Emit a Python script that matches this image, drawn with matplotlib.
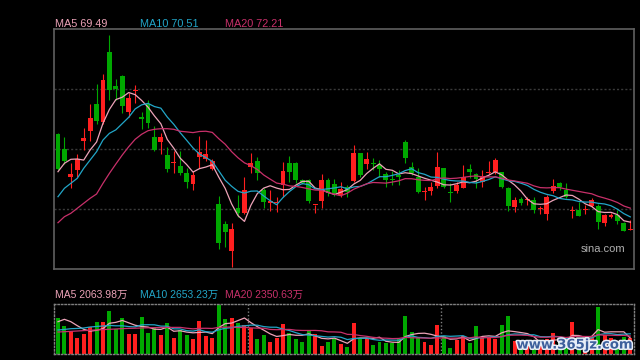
import numpy as np
import pandas as pd
import matplotlib
matplotlib.use('Agg')
import matplotlib.pyplot as plt
import matplotlib.patheffects as pe

# daily prices
opens = [87.00, 84.00, 78.46, 79.80, 85.66, 87.66, 93.00, 89.40, 103.40, 96.60,
         98.60, 91.46, 95.60, 90.46, 93.00, 86.46, 85.46, 82.80, 81.30, 80.60,
         79.14, 77.00, 82.34, 81.94, 80.00, 73.00, 69.00, 63.66, 72.14, 71.14,
         80.34, 81.60, 75.80, 73.14, 73.14, 76.80, 81.14, 81.14, 77.80, 77.80,
         72.74, 73.60, 77.80, 77.00, 74.80, 76.46, 77.66, 83.26, 81.00, 81.20,
         80.80, 79.00, 77.90, 78.80, 85.34, 80.46, 78.34, 75.40, 75.66, 76.66,
         80.14, 75.30, 75.66, 76.26, 80.00, 79.00, 77.46, 79.30, 79.34, 79.34,
         76.14, 72.46, 74.00, 73.74, 73.80, 72.08, 71.00, 75.66, 77.14, 75.80,
         71.60, 71.80, 71.88, 72.66, 72.60, 69.26, 70.34, 70.80, 69.26, 67.90]
highs = [87.26, 86.34, 81.14, 83.00, 88.14, 93.00, 96.94, 99.00, 106.80, 98.00,
         98.80, 95.20, 96.80, 91.46, 93.80, 88.60, 87.20, 84.40, 83.60, 83.60,
         80.14, 79.66, 86.60, 85.80, 82.00, 74.60, 69.66, 69.26, 74.80, 78.34,
         83.14, 82.34, 76.14, 75.80, 74.34, 81.34, 82.60, 81.46, 78.00, 77.94,
         72.80, 79.00, 78.20, 78.00, 77.40, 76.80, 84.74, 83.26, 83.46, 82.14,
         81.80, 79.46, 79.66, 79.80, 85.80, 81.46, 80.14, 76.46, 77.46, 83.34,
         80.20, 77.14, 77.46, 80.80, 81.00, 79.14, 79.80, 81.60, 82.26, 79.46,
         76.46, 74.46, 74.46, 74.46, 74.34, 72.60, 74.80, 77.94, 77.46, 77.26,
         72.60, 73.40, 72.80, 74.14, 73.00, 71.00, 71.26, 71.80, 69.40, 69.80]
lows = [79.80, 81.00, 76.14, 78.46, 83.80, 85.66, 89.00, 89.00, 93.80, 93.80,
        91.20, 90.40, 93.20, 87.94, 88.20, 83.60, 83.00, 79.40, 79.20, 78.80,
        76.14, 75.80, 80.14, 81.60, 79.80, 63.94, 64.34, 60.46, 70.46, 71.00,
        79.26, 77.80, 72.14, 71.66, 71.46, 74.34, 77.46, 77.26, 77.00, 73.26,
        71.14, 72.14, 74.60, 74.60, 74.34, 74.34, 77.46, 78.34, 79.94, 79.80,
        78.34, 76.46, 76.80, 76.80, 81.26, 78.80, 75.14, 73.80, 74.80, 76.14,
        76.26, 73.46, 75.14, 76.14, 78.14, 76.14, 76.46, 79.00, 78.94, 76.14,
        71.66, 71.46, 72.80, 72.80, 71.26, 71.00, 69.80, 75.14, 75.80, 74.14,
        70.14, 70.60, 71.00, 72.46, 67.94, 68.60, 70.14, 68.94, 67.60, 67.90]
closes = [80.06, 81.66, 79.00, 82.00, 86.20, 90.20, 89.60, 97.80, 95.80, 96.00,
          92.60, 94.26, 95.70, 90.06, 89.26, 83.80, 86.40, 80.00, 81.40, 79.26,
          77.46, 78.80, 83.46, 83.00, 81.54, 65.14, 67.46, 67.94, 71.26, 75.80,
          81.26, 79.14, 73.46, 73.60, 73.46, 79.60, 79.46, 77.80, 77.26, 73.60,
          72.80, 77.80, 75.14, 75.14, 75.94, 75.46, 83.26, 78.80, 82.00, 81.10,
          80.00, 77.80, 77.80, 78.40, 82.26, 79.14, 75.46, 75.50, 76.46, 80.34,
          76.46, 75.20, 76.80, 78.34, 79.46, 77.94, 78.60, 79.40, 81.80, 76.46,
          72.66, 73.80, 73.14, 73.80, 71.80, 72.14, 74.34, 76.60, 76.46, 74.46,
          71.66, 70.66, 71.94, 73.80, 69.34, 70.80, 70.80, 69.66, 67.66, 67.94]
# volume, 万
volumes = [4680, 3640, 3030, 2120, 2600, 3470, 4160, 4160, 5590, 3190,
           4720, 2600, 2600, 4810, 2770, 3340, 2470, 4070, 2120, 3120,
           2470, 1990, 4330, 2340, 2120, 6370, 4550, 4720, 3990, 3770,
           3340, 1950, 2470, 1560, 2080, 3900, 2690, 1950, 1560, 3020,
           2600, 1070, 1560, 2080, 1330, 910, 4060, 2040, 2040, 1170,
           1590, 1430, 1430, 1920, 4940, 2900, 2180, 1590, 1170, 3770,
           2340, 740, 1820, 2340, 1470, 3640, 2170, 2170, 1990, 3770,
           4940, 1690, 1560, 1300, 1820, 1170, 1950, 2770, 1560, 1690,
           4160, 1820, 1560, 2210, 6110, 2470, 2080, 1560, 2210, 2080]

# moving average values shown before the window is full (earlier days not on chart)
ma5_head = [79.46, 81.14, 81.94, 82.00]
ma10_head = [74.46, 76.14, 77.14, 78.14, 80.14, 81.80, 83.46, 85.80, 87.14]
ma20_head = [69.26, 70.46, 71.14, 72.14, 73.14, 74.14, 75.00, 77.14, 79.14, 81.00,
             82.80, 84.46, 85.94, 86.94, 87.66, 87.94, 88.06, 88.06, 87.94]
vma5_head = [4200, 4510, 4200, 3680]
vma10_head = [3120, 3190, 3290, 3320, 3380, 3510, 3580, 3640, 3710]
vma20_head = [2860, 2900, 2940, 2990, 3040, 3090, 3130, 3170, 3210, 3250,
              3300, 3330, 3350, 3380, 3410, 3430, 3450, 3460, 3460]

price_labels = ['MA5 69.49', 'MA10 70.51', 'MA20 72.21']
vol_labels = ['MA5 2063.98万', 'MA10 2653.23万', 'MA20 2350.63万']

RED = '#ff1f1f'
GREEN = '#00a800'
C5 = '#eda3b8'
C10 = '#22a6c8'
C20 = '#c8306a'
LBL = [C5, C10, C20]


def moving(vals, n, head):
    m = pd.Series(vals, dtype=float).rolling(n).mean().to_numpy()
    m[:n - 1] = head
    return m


o = np.array(opens); h = np.array(highs); l = np.array(lows); c = np.array(closes)
v = np.array(volumes, dtype=float)
x = np.arange(len(c))
up = c >= o
cols = np.where(up, RED, GREEN)

plt.rcParams['font.family'] = ['Liberation Sans', 'Noto Sans CJK SC', 'DejaVu Sans']

fig = plt.figure(figsize=(6.4, 3.6), dpi=100, facecolor='black')
ax = fig.add_axes([54 / 640, 91 / 360, 580 / 640, 240 / 360], facecolor='black')
axv = fig.add_axes([54 / 640, 6 / 360, 580 / 640, 50 / 360], facecolor='black')

xl = (-0.62, 89.58)

# price panel
for yg in (72, 84, 96):
    ax.axhline(yg, color='#3a3a3a', lw=1.0, ls=(0, (1.5, 1.5)), zorder=1)
ax.vlines(x, l, h, colors=cols, lw=0.8, zorder=2)
body = np.maximum(np.abs(c - o), 0.2)
ax.bar(x, body, bottom=np.minimum(o, c), width=0.76, color=cols, zorder=3, linewidth=0)
ax.plot(x, moving(c, 5, ma5_head), color=C5, lw=0.9, zorder=4)
ax.plot(x, moving(c, 10, ma10_head), color=C10, lw=0.9, zorder=4)
ax.plot(x, moving(c, 20, ma20_head), color=C20, lw=0.9, zorder=4)
ax.set_xlim(*xl)
ax.set_ylim(60, 108)
ax.set_xticks([]); ax.set_yticks([])
for s in ax.spines.values():
    s.set_color('#606060'); s.set_linewidth(1.2)
ax.text(0.985, 0.085, 'sina.com', transform=ax.transAxes, ha='right', va='center',
        color='#b0b0b0', fontsize=8)

# volume panel
axv.bar(x, v, width=0.62, color=cols, linewidth=0, zorder=2)
axv.plot(x, moving(v, 5, vma5_head), color=C5, lw=0.9, zorder=3)
axv.plot(x, moving(v, 10, vma10_head), color=C10, lw=0.9, zorder=3)
axv.plot(x, moving(v, 20, vma20_head), color=C20, lw=0.9, zorder=3)
for xs in (29.5, 59.5):
    axv.axvline(xs, color='#808080', lw=1.0, ls=(0, (1, 1.5)), zorder=1)
axv.set_xlim(*xl)
axv.set_ylim(0, 6500)
axv.set_xticks([]); axv.set_yticks([])
for s in axv.spines.values():
    s.set_color('#808080'); s.set_linewidth(1.0); s.set_linestyle((0, (1, 1.5)))

# legends
for i, (t, xp) in enumerate(zip(price_labels, (55, 140, 225))):
    fig.text(xp / 640, 1 - 24 / 360, t, color=LBL[i], fontsize=7.8, va='center', ha='left')
for i, (t, xp) in enumerate(zip(vol_labels, (55, 140, 225))):
    fig.text(xp / 640, 1 - 295 / 360, t, color=LBL[i], fontsize=7.5, va='center', ha='left')

fig.text(575 / 640, 1 - 345 / 360, 'www.365jz.com', color='#3d5f9c', fontsize=9.5,
         fontweight='bold', ha='center', va='center', family='DejaVu Sans',
         path_effects=[pe.withStroke(linewidth=2.2, foreground='#e8eef8')])

fig.savefig('out.png', dpi=100, facecolor='black')
